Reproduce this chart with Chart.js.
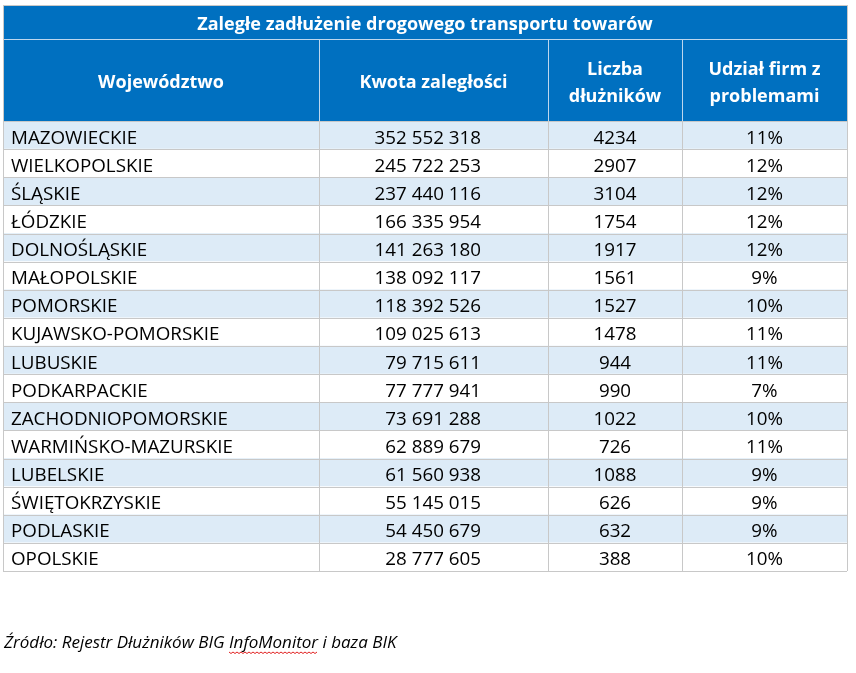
<!DOCTYPE html>
<html>
<head>
<meta charset="utf-8">
<script src="https://cdn.jsdelivr.net/npm/chart.js@4/dist/chart.umd.min.js"></script>
<style>
	html, body { margin: 0; padding: 0; background: #ffffff; }
	canvas { display: block; }
</style>
</head>
<body>
<canvas id="table" width="856" height="673"></canvas>
<script>
'use strict';

const title = 'Zaległe zadłużenie drogowego transportu towarów';
const headers = [ [ 'Województwo' ], [ 'Kwota zaległości' ], [ 'Liczba', 'dłużników' ], [ 'Udział firm z', 'problemami' ] ];
const regions = [
	'MAZOWIECKIE', 'WIELKOPOLSKIE', 'ŚLĄSKIE', 'ŁÓDZKIE', 'DOLNOŚLĄSKIE', 'MAŁOPOLSKIE',
	'POMORSKIE', 'KUJAWSKO-POMORSKIE', 'LUBUSKIE', 'PODKARPACKIE', 'ZACHODNIOPOMORSKIE',
	'WARMIŃSKO-MAZURSKIE', 'LUBELSKIE', 'ŚWIĘTOKRZYSKIE', 'PODLASKIE', 'OPOLSKIE',
];
const amounts = [
	352552318, 245722253, 237440116, 166335954, 141263180, 138092117, 118392526, 109025613,
	79715611, 77777941, 73691288, 62889679, 61560938, 55145015, 54450679, 28777605,
];
const debtors = [ 4234, 2907, 3104, 1754, 1917, 1561, 1527, 1478, 944, 990, 1022, 726, 1088, 626, 632, 388 ];
const shares = [ 11, 12, 12, 12, 12, 9, 10, 11, 11, 7, 10, 11, 9, 9, 9, 10 ];
const source = 'Źródło: Rejestr Dłużników BIG InfoMonitor i baza BIK';

// table width in x-scale units, and column edges
const tableWidth = 844;
const columnEdges = [ 0, 316, 545, 679, 844 ];

const BLUE = '#0070C0';
const STRIPE = '#DDEBF7';
const GRID = '#C8C8C8';
const HEADER_LINE = '#BDD7EE';
const FONT = '"Open Sans", sans-serif';

const formatAmount = ( value ) => String( value ).replace( /\B(?=(\d{3})+(?!\d))/g, ' ' );

const tablePlugin = {
	id: 'tablePlugin',
	afterDatasetsDraw: function ( chart ) {
		const ctx = chart.ctx;
		const area = chart.chartArea;
		const xScale = chart.scales.x;
		const yScale = chart.scales.y;
		const xs = columnEdges.map( ( v ) => xScale.getPixelForValue( v ) );
		const band = ( area.bottom - area.top ) / regions.length;

		ctx.save();

		// header block
		const titleTop = 6;
		const titleBottom = 39;
		ctx.fillStyle = BLUE;
		ctx.fillRect( xs[ 0 ], titleTop, xs[ 4 ] - xs[ 0 ], area.top - titleTop );

		ctx.strokeStyle = HEADER_LINE;
		ctx.lineWidth = 1;
		ctx.beginPath();
		ctx.moveTo( xs[ 0 ], titleBottom + 0.5 );
		ctx.lineTo( xs[ 4 ], titleBottom + 0.5 );
		for ( let i = 1; i < 4; i++ ) {
			ctx.moveTo( Math.round( xs[ i ] ) + 0.5, titleBottom );
			ctx.lineTo( Math.round( xs[ i ] ) + 0.5, area.top );
		}
		ctx.stroke();

		ctx.fillStyle = '#ffffff';
		ctx.font = 'bold 18px ' + FONT;
		ctx.textAlign = 'center';
		ctx.textBaseline = 'alphabetic';
		ctx.fillText( title, ( xs[ 0 ] + xs[ 4 ] ) / 2, 30 );

		const headerMid = ( titleBottom + area.top ) / 2;
		headers.forEach( ( lines, c ) => {
			const cx = ( xs[ c ] + xs[ c + 1 ] ) / 2;
			lines.forEach( ( line, l ) => {
				const y = headerMid + 8 + ( l - ( lines.length - 1 ) / 2 ) * 27;
				ctx.fillText( line, cx, y );
			} );
		} );

		// grid lines of the body
		ctx.strokeStyle = GRID;
		ctx.beginPath();
		for ( let r = 0; r <= regions.length; r++ ) {
			const y = Math.round( area.top + r * band ) + 0.5;
			ctx.moveTo( xs[ 0 ], y );
			ctx.lineTo( xs[ 4 ], y );
		}
		for ( let i = 0; i < 5; i++ ) {
			const x = Math.round( xs[ i ] ) + 0.5;
			ctx.moveTo( x, i === 0 || i === 4 ? titleTop - 1 : area.top );
			ctx.lineTo( x, area.bottom );
		}
		ctx.moveTo( xs[ 0 ], titleTop - 0.5 );
		ctx.lineTo( xs[ 4 ], titleTop - 0.5 );
		ctx.stroke();

		// cell texts
		ctx.fillStyle = '#000000';
		ctx.font = '18.8px ' + FONT;
		regions.forEach( ( region, r ) => {
			const y = yScale.getPixelForValue( r ) + 8.5;
			ctx.textAlign = 'left';
			ctx.fillText( region, xs[ 0 ] + 8, y );
			ctx.textAlign = 'right';
			ctx.fillText( formatAmount( amounts[ r ] ), xs[ 2 ] - 67, y );
			ctx.textAlign = 'center';
			ctx.fillText( String( debtors[ r ] ), ( xs[ 2 ] + xs[ 3 ] ) / 2, y );
			ctx.fillText( shares[ r ] + '%', ( xs[ 3 ] + xs[ 4 ] ) / 2, y );
		} );

		// source note
		ctx.font = 'italic 17px ' + FONT;
		ctx.textAlign = 'left';
		const sx = 4;
		const sy = 648;
		ctx.fillText( source, sx, sy );

		// spell-check squiggle under "InfoMonitor"
		const word = 'InfoMonitor';
		const start = sx + ctx.measureText( source.slice( 0, source.indexOf( word ) ) ).width;
		const end = start + ctx.measureText( word ).width;
		ctx.strokeStyle = '#E02020';
		ctx.beginPath();
		for ( let x = start, k = 0; x <= end; x += 2, k++ ) {
			const wy = sy + 4 + ( k % 2 ? 1.5 : 0 );
			if ( k === 0 ) {
				ctx.moveTo( x, wy );
			} else {
				ctx.lineTo( x, wy );
			}
		}
		ctx.stroke();

		ctx.restore();
	},
};

window.addEventListener( 'DOMContentLoaded', function () {
	const element = document.getElementById( 'table' );

	new Chart( element, {
		type: 'bar',
		data: {
			labels: regions,
			datasets: [
				{
					data: regions.map( () => [ 0, tableWidth ] ),
					backgroundColor: regions.map( ( r, i ) => ( i % 2 === 0 ? STRIPE : '#ffffff' ) ),
					borderWidth: 0,
					barPercentage: 1,
					categoryPercentage: 1,
				},
			],
		},
		options: {
			indexAxis: 'y',
			responsive: false,
			animation: false,
			devicePixelRatio: 1,
			layout: {
				padding: { left: 3, right: 9, top: 121, bottom: 102 },
			},
			scales: {
				x: { type: 'linear', min: 0, max: tableWidth, display: false },
				y: { type: 'category', display: false },
			},
			plugins: {
				legend: { display: false },
				tooltip: { enabled: false },
			},
		},
		plugins: [ tablePlugin ],
	} );
} );
</script>
</body>
</html>
